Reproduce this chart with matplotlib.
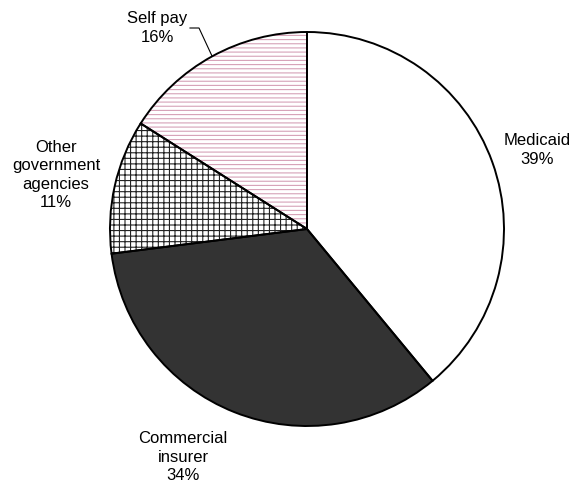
import matplotlib
matplotlib.use("Agg")
import matplotlib.pyplot as plt

labels = ["Medicaid", "Commercial\ninsurer", "Other\ngovernment\nagencies", "Self pay"]
values = [39, 34, 11, 16]
pct_labels = ["39%", "34%", "11%", "16%"]

plt.rcParams['font.family'] = ['Liberation Sans', 'DejaVu Sans']
plt.rcParams['hatch.linewidth'] = 0.8

W, H = 574, 487
cx, cy, R = 307, 229, 197
fig = plt.figure(figsize=(W / 100, H / 100), dpi=100)
ax = fig.add_axes([0, 0, 1, 1])

faces = ['white', '#333333', 'white', 'white']
hatch_cols = ['white', '#333333', '#222222', '#d6a2b8']
hatches = [None, None, '+++', '----']

wedges, _ = ax.pie(values, startangle=90, counterclock=False, radius=1,
                   colors=faces, wedgeprops=dict(linewidth=0))
for w, hc, h in zip(wedges, hatch_cols, hatches):
    w.set_edgecolor(hc)
    if h:
        w.set_hatch(h)
ax.pie(values, startangle=90, counterclock=False, radius=1,
       wedgeprops=dict(fill=False, edgecolor='black', linewidth=1.4))

ax.set_xlim(-cx / R, (W - cx) / R)
ax.set_ylim(-(H - cy) / R, cy / R)
ax.set_aspect('equal')
ax.axis('off')

def px(x, y):
    return ((x - cx) / R, (cy - y) / R)

fs = 12
ls = 1.3
ax.text(*px(537, 150), labels[0] + "\n" + pct_labels[0], ha='center', va='center',
        fontsize=fs, linespacing=ls, multialignment='center')
ax.text(*px(183, 457), labels[1] + "\n" + pct_labels[1], ha='center', va='center',
        fontsize=fs, linespacing=ls, multialignment='center')
ax.text(*px(56, 175), labels[2] + "\n" + pct_labels[2], ha='center', va='center',
        fontsize=fs, linespacing=ls, multialignment='center')
ax.text(*px(157, 28), labels[3] + "\n" + pct_labels[3], ha='center', va='center',
        fontsize=fs, linespacing=ls, multialignment='center')

xs, ys = zip(px(190, 28), px(199, 28), px(212, 56))
ax.plot(xs, ys, color='black', linewidth=0.8)

fig.savefig("out.png", dpi=100)
